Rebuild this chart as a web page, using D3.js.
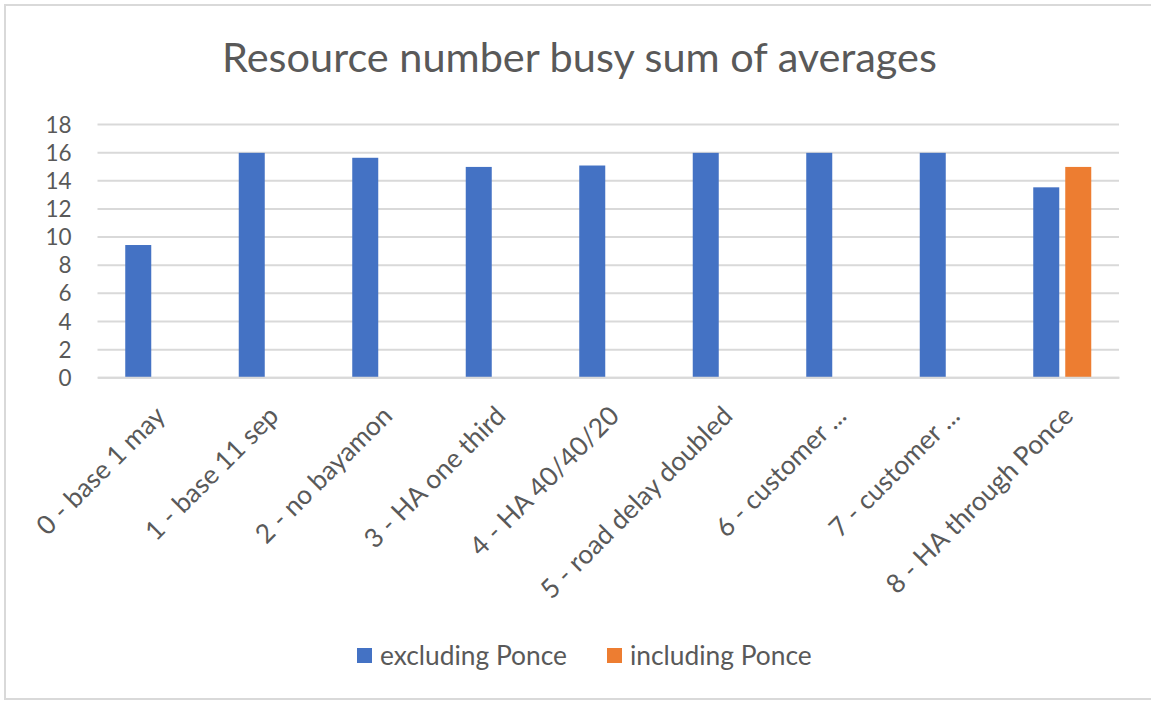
<!DOCTYPE html>
<html>
<head>
<meta charset="utf-8">
<script src="https://cdn.jsdelivr.net/npm/d3@7"></script>
<style>
  html, body { margin: 0; padding: 0; background: #fff; }
  svg { display: block; }
  text { font-family: Lato, "Open Sans", sans-serif; fill: #595959; }
</style>
</head>
<body>
<svg id="chart" width="1151" height="701"></svg>
<script>
const title = "Resource number busy sum of averages";
const categories = ["0 - base 1 may", "1 - base 11 sep", "2 - no bayamon", "3 - HA one third",
  "4 - HA 40/40/20", "5 - road delay doubled", "6 - customer ...", "7 - customer ...", "8 - HA through Ponce"];
const seriesNames = ["excluding Ponce", "including Ponce"];
const excludingPonce = [9.4, 15.95, 15.6, 14.95, 15.05, 15.95, 15.95, 15.95, 13.5];
const includingPonce = [null, null, null, null, null, null, null, null, 14.95];
const yTicks = [0, 2, 4, 6, 8, 10, 12, 14, 16, 18];
const colors = ["#4472C4", "#ED7D31"];

const svg = d3.select("#chart");
const W = 1151, H = 701;
svg.append("rect").attr("x", 0).attr("y", 0).attr("width", W).attr("height", H).attr("fill", "#fff");
// chart border
svg.append("rect").attr("x", 5).attr("y", 5).attr("width", 1150).attr("height", 694)
  .attr("fill", "none").attr("stroke", "#d9d9d9").attr("stroke-width", 2);

const plot = { left: 97.5, right: 1119, top: 124, bottom: 377.3 };

const x = d3.scaleBand().domain(categories).range([plot.left, plot.right]).padding(0);
const xs = d3.scaleBand().domain(seriesNames).range([0, x.bandwidth()])
  .paddingInner(0.1875).paddingOuter(0.867);
const y = d3.scaleLinear().domain([0, 18]).range([plot.bottom, plot.top]);

function fitSize(sel, target) {
  let s = parseFloat(sel.attr("font-size"));
  for (let i = 0; i < 3; i++) {
    const len = sel.node().getComputedTextLength();
    s = s * target / len;
    sel.attr("font-size", s);
  }
  return s;
}

// title
const t = svg.append("text").attr("x", 579.5).attr("y", 72).attr("text-anchor", "middle")
  .attr("font-size", 36).text(title);
fitSize(t, 715);

// legend (also sets base label size)
const legendX = [357, 607];
const lg = svg.append("g");
let labelSize = 24;
seriesNames.forEach((name, i) => {
  lg.append("rect").attr("x", legendX[i]).attr("y", 648).attr("width", 15).attr("height", 15)
    .attr("fill", colors[i]);
  const tx = lg.append("text").attr("x", legendX[i] + 23).attr("y", 664.5)
    .attr("font-size", 24).text(name);
  if (i === 0) labelSize = fitSize(tx, 187);
  else tx.attr("font-size", labelSize);
});

// gridlines
const grid = svg.append("g").attr("transform", `translate(${plot.left},0)`)
  .call(d3.axisLeft(y).tickValues(yTicks).tickSize(-(plot.right - plot.left)).tickFormat(""));
grid.select(".domain").remove();
grid.selectAll(".tick line").attr("stroke", "#d9d9d9").attr("stroke-width", 2);

// y labels
const yl = svg.append("g").attr("transform", `translate(${plot.left},0)`)
  .call(d3.axisLeft(y).tickValues(yTicks).tickSize(0).tickPadding(26));
yl.select(".domain").remove();
yl.selectAll("text").attr("font-size", 22.5).attr("font-family", "Lato, 'Open Sans', sans-serif")
  .attr("fill", "#595959").attr("dy", "0.36em");

// bars
const seriesData = [excludingPonce, includingPonce];
seriesData.forEach((vals, si) => {
  svg.append("g").selectAll("rect")
    .data(categories.map((c, i) => ({ c, v: vals[i] })).filter(d => d.v != null))
    .join("rect")
    .attr("x", d => x(d.c) + xs(seriesNames[si]))
    .attr("width", xs.bandwidth())
    .attr("y", d => y(d.v))
    .attr("height", d => y(0) - y(d.v))
    .attr("fill", colors[si]);
});

// x axis line
const xa = svg.append("g").attr("transform", `translate(0,${plot.bottom})`)
  .call(d3.axisBottom(x).tickSize(0).tickFormat(""));
xa.select(".domain").attr("stroke", "#d9d9d9").attr("stroke-width", 2);

// x labels rotated
svg.append("g").selectAll("text").data(categories).join("text")
  .attr("transform", d => `translate(${x(d) + x.bandwidth() / 2 + 6},411) rotate(-45)`)
  .attr("text-anchor", "end").attr("dy", "0.35em")
  .attr("font-size", labelSize).text(d => d);
</script>
</body>
</html>
